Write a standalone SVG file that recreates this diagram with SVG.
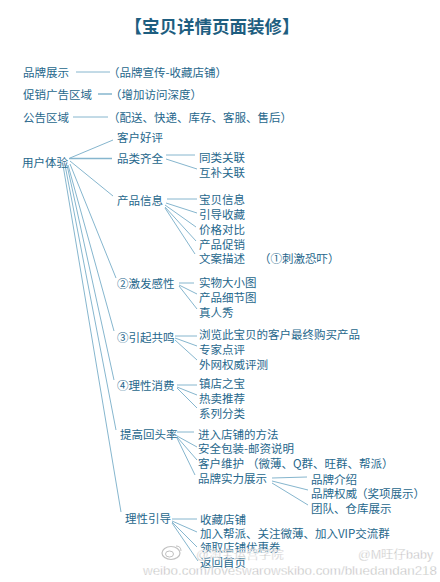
<svg xmlns="http://www.w3.org/2000/svg" width="440" height="582" viewBox="0 0 440 582">
<style>
text{font-family:"Noto Sans CJK SC","Noto Sans",sans-serif;font-size:11.5px;fill:#26678c;dominant-baseline:central}
.title{font-size:17.5px;font-weight:bold;fill:#1e5e80}
.c line{stroke:#86b6ce;stroke-width:1;fill:none}
.wm{fill:#a9a9a9;font-family:"Liberation Sans","Noto Sans CJK SC",sans-serif;font-size:12.5px;stroke:#ffffff;stroke-width:0.4;opacity:0.85}
</style>
<rect width="440" height="582" fill="#ffffff"/>
<g id="title"><text class="title" x="212" y="25" text-anchor="middle">【宝贝详情页面装修】</text></g>

<g class="c" id="connectors">
<line x1="76" y1="72" x2="110" y2="72"/>
<line x1="98" y1="94" x2="112" y2="94" style="stroke-width:1.5"/>
<line x1="73" y1="117" x2="108" y2="117"/>
<line x1="70" y1="158" x2="113" y2="140"/>
<line x1="69" y1="158.5" x2="112" y2="158.5" style="stroke-width:1.6"/>
<line x1="70" y1="161" x2="113" y2="196"/>
<line x1="70" y1="164" x2="116" y2="278"/>
<line x1="68" y1="165" x2="114" y2="331"/>
<line x1="67" y1="165" x2="114" y2="380"/>
<line x1="65" y1="165" x2="116" y2="430"/>
<line x1="63" y1="165" x2="121" y2="512"/>
<line x1="166" y1="155" x2="195" y2="155"/>
<line x1="166" y1="159" x2="197" y2="169"/>
<line x1="167" y1="199" x2="197" y2="199"/>
<line x1="166" y1="203" x2="197" y2="213"/>
<line x1="165" y1="205" x2="196" y2="227"/>
<line x1="165" y1="207" x2="196" y2="241"/>
<line x1="165" y1="208" x2="195" y2="254"/>
<line x1="179" y1="283" x2="194" y2="283"/>
<line x1="179" y1="285" x2="197" y2="294"/>
<line x1="179" y1="286" x2="197" y2="309"/>
<line x1="175" y1="336" x2="197" y2="336"/>
<line x1="175" y1="338" x2="197" y2="346"/>
<line x1="175" y1="340" x2="197" y2="360"/>
<line x1="177" y1="385" x2="197" y2="385"/>
<line x1="177" y1="387" x2="197" y2="395"/>
<line x1="177" y1="388" x2="197" y2="408"/>
<line x1="177" y1="432" x2="194" y2="432"/>
<line x1="177" y1="436" x2="197" y2="447"/>
<line x1="177" y1="437" x2="197" y2="460"/>
<line x1="177" y1="438" x2="195" y2="475"/>
<line x1="272" y1="478" x2="307" y2="477"/>
<line x1="272" y1="481" x2="308" y2="490"/>
<line x1="272" y1="483" x2="308" y2="505"/>
<line x1="172" y1="519" x2="197" y2="519"/>
<line x1="172" y1="521" x2="197" y2="532"/>
<line x1="172" y1="522" x2="197" y2="547"/>
<line x1="172" y1="523" x2="198" y2="561"/>
</g>

<g id="brand"><text x="23" y="72">品牌展示</text><text x="108" y="72">（品牌宣传-收藏店铺）</text></g>
<g id="promo"><text x="23" y="94">促销广告区域</text><text x="110" y="94">（增加访问深度）</text></g>
<g id="notice"><text x="23" y="117">公告区域</text><text x="108" y="117">（配送、快递、库存、客服、售后）</text></g>

<g id="ux"><text x="22" y="162">用户体验</text></g>
<g id="review"><text x="117" y="137">客户好评</text></g>
<g id="category"><text x="117" y="158">品类齐全</text></g>
<g id="cat1"><text x="199" y="157">同类关联</text></g>
<g id="cat2"><text x="199" y="172">互补关联</text></g>
<g id="info"><text x="117" y="200">产品信息</text></g>
<g id="info1"><text x="199" y="199">宝贝信息</text></g>
<g id="info2"><text x="199" y="214">引导收藏</text></g>
<g id="info3"><text x="199" y="229">价格对比</text></g>
<g id="info4"><text x="199" y="244">产品促销</text></g>
<g id="info5"><text x="199" y="258">文案描述</text><text x="259" y="258">（①刺激恐吓）</text></g>

<g id="sense"><text x="117" y="283">②激发感性</text></g>
<g id="sense1"><text x="199" y="282">实物大小图</text></g>
<g id="sense2"><text x="199" y="297">产品细节图</text></g>
<g id="sense3"><text x="199" y="312">真人秀</text></g>

<g id="resonance"><text x="117" y="337">③引起共鸣</text></g>
<g id="res1"><text x="199" y="334">浏览此宝贝的客户最终购买产品</text></g>
<g id="res2"><text x="199" y="349">专家点评</text></g>
<g id="res3"><text x="199" y="364">外网权威评测</text></g>

<g id="rational"><text x="117" y="385">④理性消费</text></g>
<g id="rat1"><text x="199" y="383">镇店之宝</text></g>
<g id="rat2"><text x="199" y="398">热卖推荐</text></g>
<g id="rat3"><text x="199" y="413">系列分类</text></g>

<g id="return"><text x="120" y="434">提高回头率</text></g>
<g id="ret1"><text x="198" y="434">进入店铺的方法</text></g>
<g id="ret2"><text x="198" y="448">安全包装-邮资说明</text></g>
<g id="ret3"><text x="198" y="463">客户维护</text><text x="247" y="463">（微薄、Q群、旺群、帮派）</text></g>
<g id="ret4"><text x="198" y="478">品牌实力展示</text></g>
<g id="bs1"><text x="311" y="479">品牌介绍</text></g>
<g id="bs2"><text x="311" y="493">品牌权威</text><text x="356" y="493">（奖项展示）</text></g>
<g id="bs3"><text x="311" y="508">团队、仓库展示</text></g>

<g id="guide"><text x="125" y="518">理性引导</text></g>
<g id="g1"><text x="200" y="519">收藏店铺</text></g>
<g id="g2"><text x="200" y="533">加入帮派、关注微薄、加入VIP交流群</text></g>
<g id="g3"><text x="200" y="547">领取店铺优惠券</text></g>
<g id="g4"><text x="200" y="562">返回首页</text></g>

<g id="watermark">
<ellipse cx="171" cy="553" rx="9" ry="6.5" fill="none" stroke="#b5b5b5" stroke-width="1.2" opacity="0.85"/>
<ellipse cx="169.5" cy="554" rx="4" ry="3" fill="none" stroke="#b5b5b5" stroke-width="1" opacity="0.85"/>
<path d="M176 546 q5 0 5 5" fill="none" stroke="#b5b5b5" stroke-width="1" opacity="0.85"/>
<text class="wm" x="196" y="555">@淘宝运营学院</text>
<text class="wm" x="358" y="555">@M旺仔baby</text>
<text class="wm" x="143" y="571" textLength="294" lengthAdjust="spacingAndGlyphs">weibo.com/loveswarowskibo.com/bluedandan218</text>
</g>
</svg>
